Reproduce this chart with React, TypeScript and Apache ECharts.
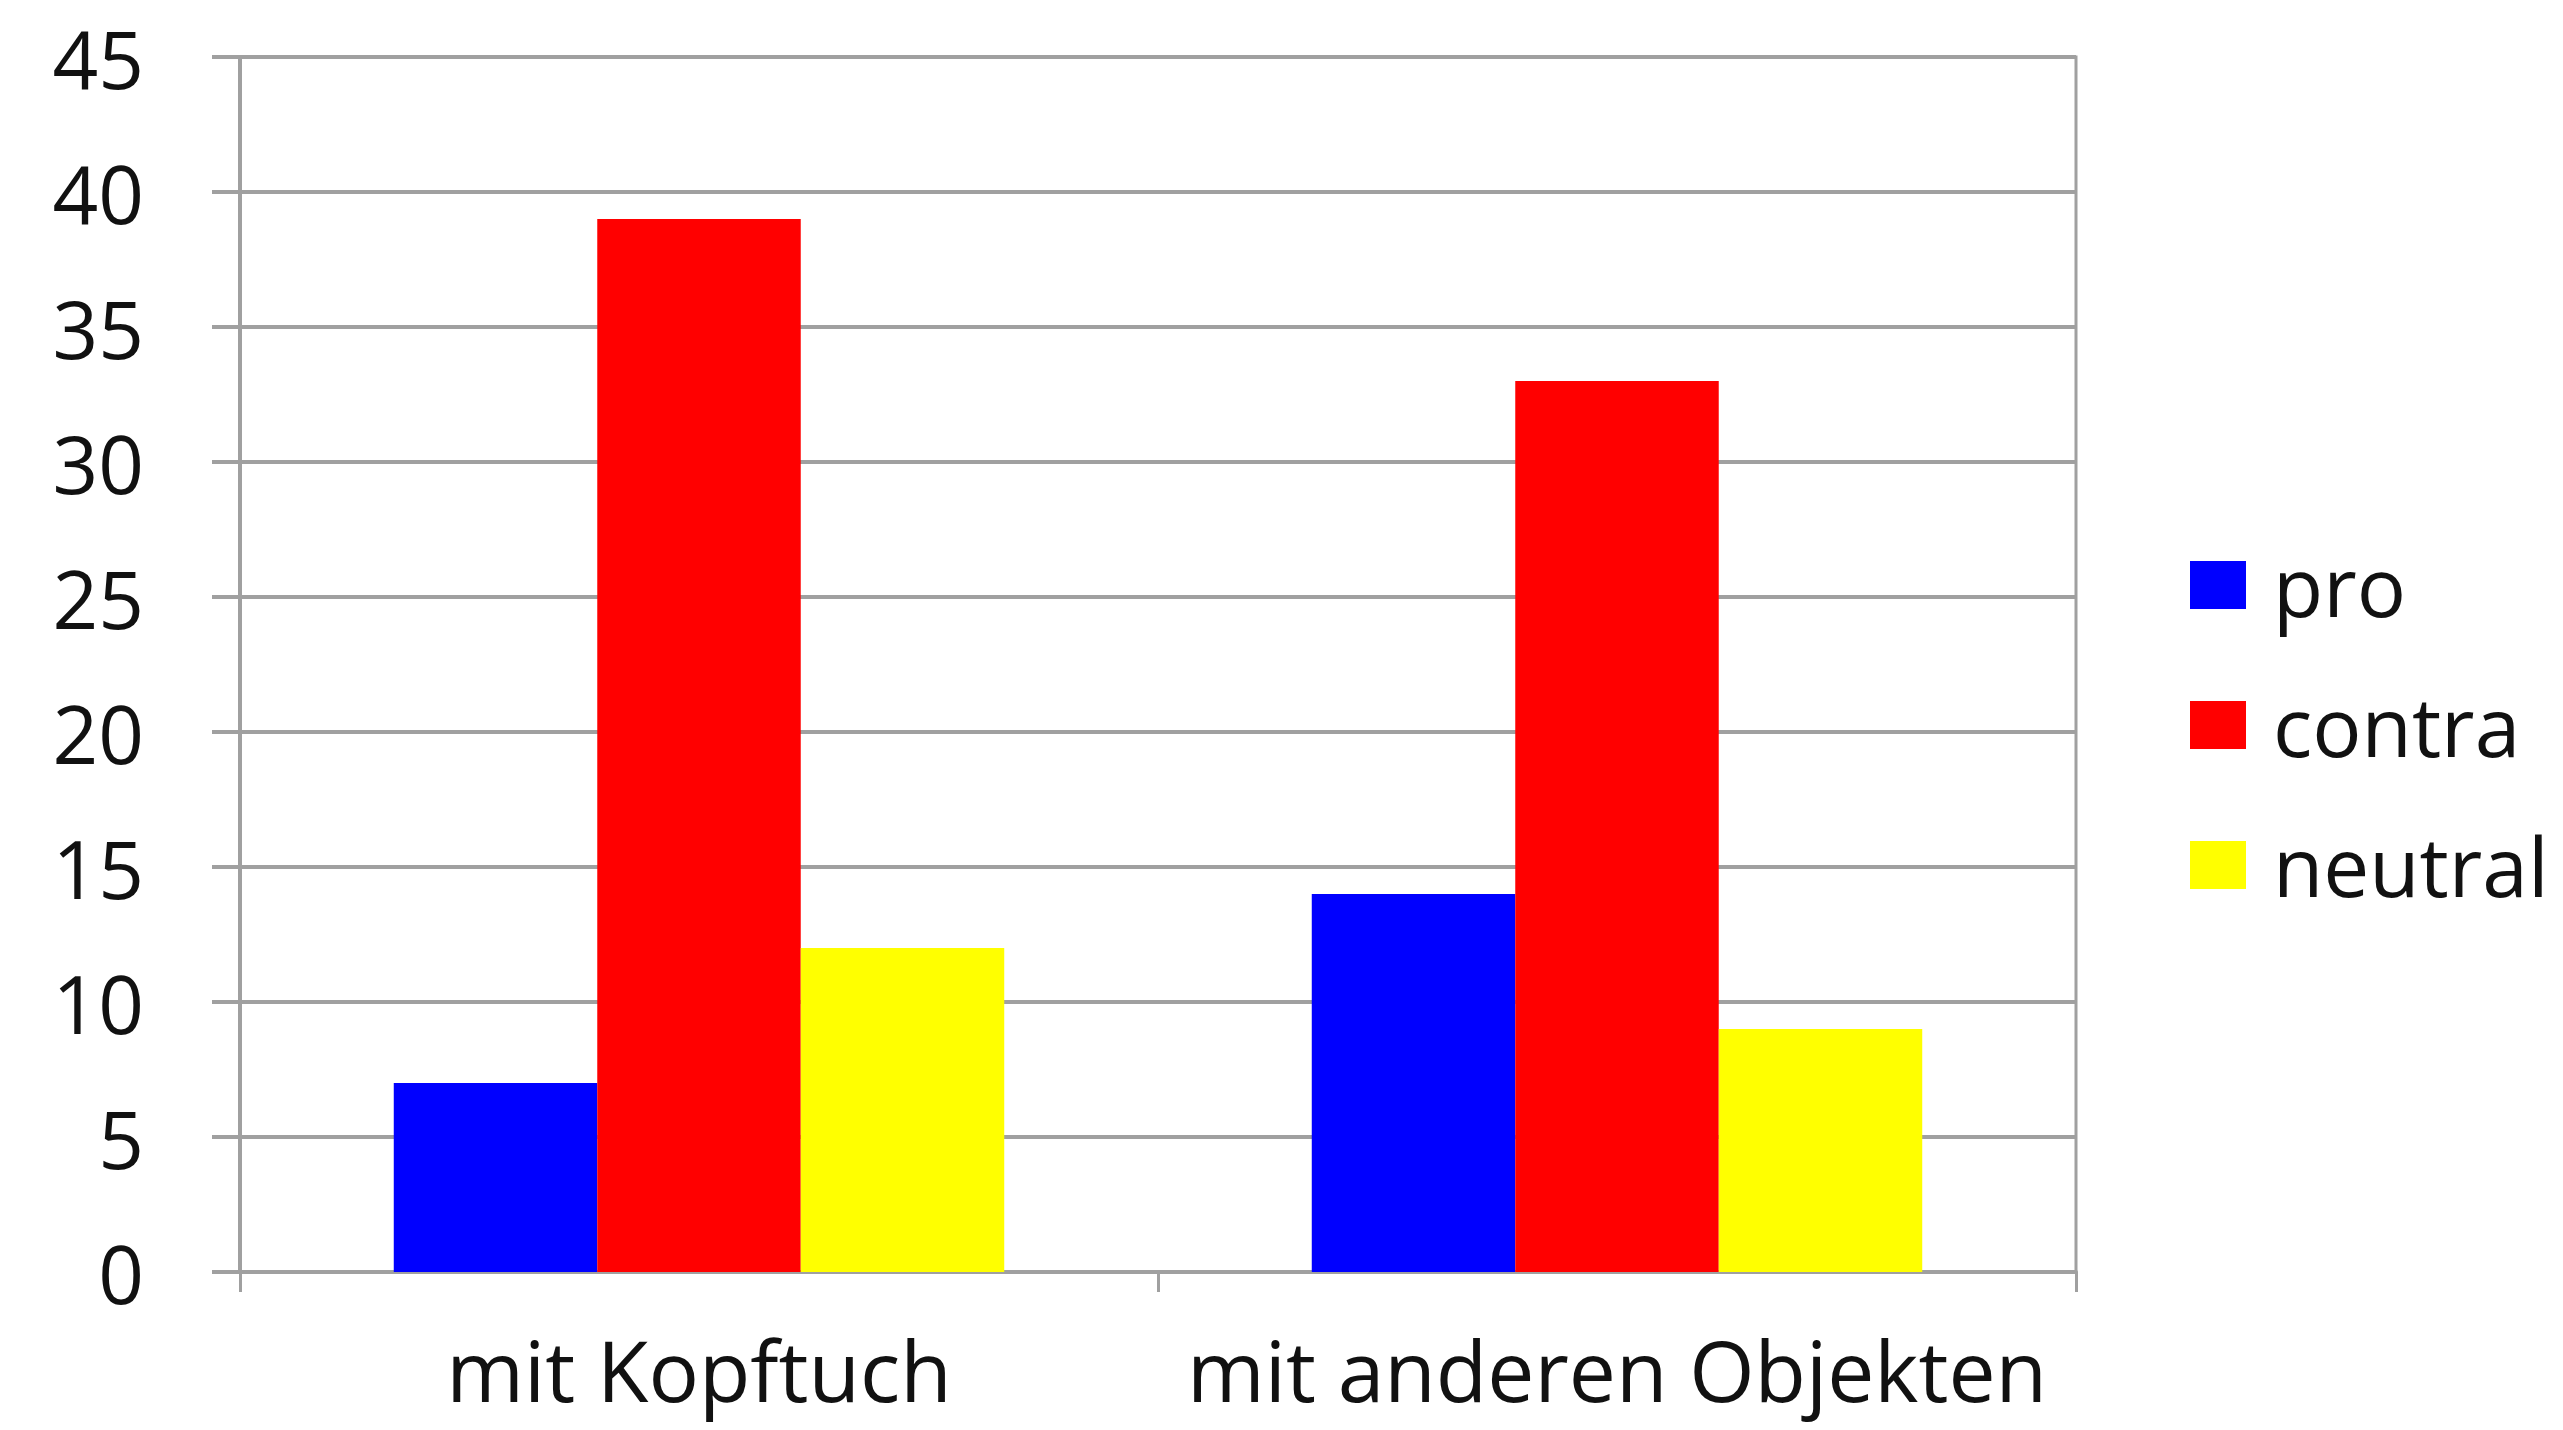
import React, { useEffect, useRef } from "react";
import * as echarts from "echarts";

const categories = ["mit Kopftuch", "mit anderen Objekten"];
const seriesNames = ["pro", "contra", "neutral"];
const proValues = [7, 14];
const contraValues = [39, 33];
const neutralValues = [12, 9];
const seriesColors = ["#0000ff", "#ff0000", "#ffff00"];

const FONT = "Open Sans";
const GRID_COLOR = "#a0a0a0";

export default function App() {
  const ref = useRef<HTMLDivElement>(null);
  useEffect(() => {
    if (!ref.current) return;
    const chart = echarts.init(ref.current, null, { renderer: "svg" });
    const values = [proValues, contraValues, neutralValues];
    chart.setOption({
      animation: false,
      backgroundColor: "#ffffff",
      textStyle: { fontFamily: FONT },
      grid: {
        left: 240,
        right: 487,
        top: 57,
        bottom: 158,
        show: true,
        borderColor: GRID_COLOR,
        borderWidth: 3,
        backgroundColor: "transparent",
      },
      legend: {
        orient: "vertical",
        left: 2185,
        top: 539,
        itemWidth: 56,
        itemHeight: 48,
        itemGap: 58,
        icon: "rect",
        data: seriesNames,
        textStyle: { fontFamily: FONT, fontSize: 82, color: "#111111", padding: [8, 0, 0, 22] },
      },
      xAxis: {
        type: "category",
        data: categories,
        axisLine: { show: true, lineStyle: { color: GRID_COLOR, width: 4 } },
        axisTick: { show: true, length: 20, lineStyle: { color: GRID_COLOR, width: 3 } },
        axisLabel: {
          interval: 0,
          fontFamily: FONT,
          fontSize: 84,
          lineHeight: 84,
          color: "#111111",
          margin: 55,
        },
        splitLine: { show: false },
      },
      yAxis: {
        type: "value",
        min: 0,
        max: 45,
        interval: 5,
        axisLine: { show: true, lineStyle: { color: GRID_COLOR, width: 4 } },
        axisTick: { show: true, length: 28, lineStyle: { color: GRID_COLOR, width: 4 } },
        axisLabel: {
          fontFamily: FONT,
          fontSize: 80,
          color: "#111111",
          margin: 96,
          padding: [22, 0, 0, 0],
        },
        splitLine: { show: true, lineStyle: { color: GRID_COLOR, width: 4 } },
      },
      series: seriesNames.map((name, i) => ({
        name,
        type: "bar",
        data: values[i],
        barGap: "0%",
        barCategoryGap: "33.5%",
        itemStyle: { color: seriesColors[i] },
      })),
    });
    return () => chart.dispose();
  }, []);
  return (
    <div
      ref={ref}
      style={{ position: "fixed", left: 0, top: 0, width: 2563, height: 1430 }}
    />
  );
}
